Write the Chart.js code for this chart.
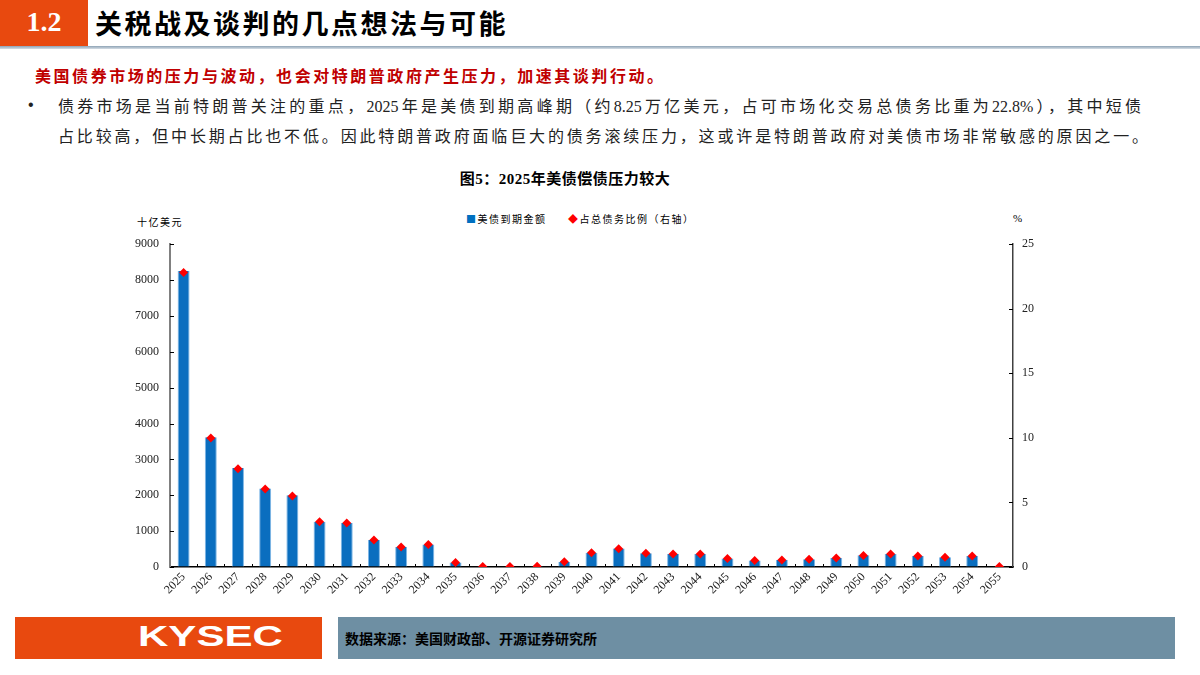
<!DOCTYPE html>
<html>
<head>
<meta charset="utf-8">
<script src="https://cdn.jsdelivr.net/npm/chart.js@4.4.1/dist/chart.umd.min.js"></script>
<style>
  body { margin: 0; width: 1200px; height: 675px; background: #fff; position: relative; overflow: hidden;
         font-family: "Liberation Serif", "Noto Sans CJK SC", serif; }
  .abs { position: absolute; white-space: nowrap; }
  .just { text-align: justify; text-align-last: justify; white-space: normal; }
</style>
</head>
<body>
<div class="abs" style="left:0;top:0;width:88px;height:46px;background:#E8490F;"></div>
<div class="abs" style="left:0;top:6px;width:88px;text-align:center;color:#fff;font:bold 28px 'Liberation Serif';">1.2</div>
<div class="abs" style="left:95px;top:3px;font:bold 27px 'Noto Sans CJK SC';letter-spacing:2.5px;color:#000;">关税战及谈判的几点想法与可能</div>
<div class="abs" style="left:0;top:46px;width:1200px;height:3px;background:linear-gradient(#8ea3b5,#d5dde5);"></div>

<div class="abs just" style="left:35px;top:63px;width:628px;font:bold 16px 'Liberation Serif','Noto Sans CJK SC';color:#C00000;">美国债券市场的压力与波动，也会对特朗普政府产生压力，加速其谈判行动。</div>
<div class="abs" style="left:28px;top:96px;font:16px 'Liberation Sans';color:#222;">•</div>
<div class="abs just" style="left:58px;top:93px;width:1083px;font:16px 'Liberation Serif','Noto Sans CJK SC';color:#222;">债券市场是当前特朗普关注的重点，2025年是美债到期高峰期（约8.25万亿美元，占可市场化交易总债务比重为22.8%），其中短债</div>
<div class="abs just" style="left:58px;top:123px;width:1090px;font:16px 'Liberation Serif','Noto Sans CJK SC';color:#222;">占比较高，但中长期占比也不低。因此特朗普政府面临巨大的债务滚续压力，这或许是特朗普政府对美债市场非常敏感的原因之一。</div>

<div class="abs" style="left:0;top:167px;width:1130px;text-align:center;font:bold 15px 'Liberation Serif','Noto Sans CJK SC';letter-spacing:0.5px;color:#000;">图5：2025年美债偿债压力较大</div>

<div class="abs" style="left:466px;top:211px;font:10px 'Noto Sans CJK SC';letter-spacing:1.5px;color:#000;"><span style="color:#0070C0;">■</span>美债到期金额</div>
<div class="abs" style="left:568px;top:211px;font:10px 'Noto Sans CJK SC';letter-spacing:1.5px;color:#000;"><span style="color:#FF0000;">◆</span>占总债务比例（右轴）</div>
<div class="abs" style="left:137px;top:214px;font:10px 'Noto Sans CJK SC';letter-spacing:1.5px;color:#000;">十亿美元</div>
<div class="abs" style="left:1013px;top:212px;font:11px 'Liberation Serif';color:#000;">%</div>

<canvas id="chart" width="960" height="396" style="position:absolute;left:90px;top:226px;"></canvas>

<div class="abs" style="left:15px;top:617px;width:307px;height:42px;background:#E8490F;"></div>
<div class="abs" style="left:138px;top:620px;font:bold 29px 'Liberation Sans';color:#fff;transform:scaleX(1.45);transform-origin:left top;">KYSEC</div>
<div class="abs" style="left:338px;top:617px;width:837px;height:42px;background:#6E8FA3;"></div>
<div class="abs" style="left:345px;top:628px;font:bold 14px 'Noto Sans CJK SC';color:#000;">数据来源：美国财政部、开源证券研究所</div>

<script>
const years = ['2025','2026','2027','2028','2029','2030','2031','2032','2033','2034','2035','2036','2037','2038','2039','2040',
  '2041','2042','2043','2044','2045','2046','2047','2048','2049','2050','2051','2052','2053','2054','2055'];
// 美债到期金额（十亿美元）
const maturing = [8250, 3620, 2760, 2190, 2000, 1260, 1225, 755, 560, 625, 125, 10, 12, 20, 140, 400,
  515, 385, 365, 365, 235, 180, 195, 215, 250, 330, 365, 305, 270, 305, 10];
// 占总债务比例（%，右轴）
const shareOfDebt = [22.8, 10.0, 7.6, 6.05, 5.5, 3.5, 3.4, 2.1, 1.55, 1.75, 0.35, 0.03, 0.04, 0.06, 0.4, 1.1,
  1.42, 1.06, 1.0, 1.0, 0.65, 0.5, 0.55, 0.6, 0.7, 0.9, 1.0, 0.85, 0.75, 0.85, 0.03];
const leftTicks = [0, 9000, 1000];
const rightTicks = [0, 25, 5];

// 轴内侧小刻度
const innerTicks = {
  id: 'innerTicks',
  afterDatasetsDraw(chart) {
    const { ctx, scales: { x, y, y1 }, chartArea } = chart;
    ctx.save();
    ctx.lineWidth = 1;
    ctx.strokeStyle = '#000';
    ctx.beginPath();
    y.ticks.forEach((t) => {
      const py = Math.round(y.getPixelForValue(t.value)) + 0.5;
      ctx.moveTo(chartArea.left, py);
      ctx.lineTo(chartArea.left + 4, py);
    });
    y1.ticks.forEach((t) => {
      const py = Math.round(y1.getPixelForValue(t.value)) + 0.5;
      ctx.moveTo(chartArea.right - 4, py);
      ctx.lineTo(chartArea.right, py);
    });
    for (let i = 0; i < years.length - 1; i++) {
      const px = Math.round((x.getPixelForValue(i) + x.getPixelForValue(i + 1)) / 2) + 0.5;
      ctx.moveTo(px, chartArea.bottom);
      ctx.lineTo(px, chartArea.bottom - 3);
    }
    ctx.stroke();
    ctx.restore();
  }
};

const ctx = document.getElementById('chart').getContext('2d');
new Chart(ctx, {
  data: {
    labels: years,
    datasets: [
      {
        type: 'line',
        label: '占总债务比例（右轴）',
        data: shareOfDebt,
        yAxisID: 'y1',
        showLine: false,
        pointStyle: 'rectRot',
        pointRadius: 4.5,
        pointBackgroundColor: '#FF0000',
        pointBorderColor: '#FF0000',
        pointBorderWidth: 0,
        order: 0,
      },
      {
        type: 'bar',
        label: '美债到期金额',
        data: maturing,
        yAxisID: 'y',
        backgroundColor: '#0A6EBF',
        borderColor: '#7DB6E6',
        borderWidth: { left: 1, right: 1, top: 0, bottom: 0 },
        categoryPercentage: 1,
        barPercentage: 0.44,
        order: 1,
      },
    ],
  },
  options: {
    responsive: false,
    animation: false,
    devicePixelRatio: 1,
    layout: { padding: { top: 6, bottom: 0, left: 0, right: 0 } },
    plugins: { legend: { display: false }, tooltip: { enabled: false } },
    scales: {
      x: {
        offset: true,
        grid: { display: true, drawOnChartArea: false, drawTicks: false },
        border: { display: true, color: '#000', width: 1.5 },
        ticks: { minRotation: 45, maxRotation: 45, autoSkip: false, padding: 3, color: '#222',
                 font: { family: 'Liberation Serif', size: 12 } },
        afterFit: (s) => { s.height = 55; },
      },
      y: {
        position: 'left',
        min: leftTicks[0], max: leftTicks[1],
        grid: { display: true, drawOnChartArea: false, drawTicks: false },
        border: { display: true, color: '#808080', width: 2 },
        ticks: { stepSize: leftTicks[2], padding: 11, color: '#222',
                 font: { family: 'Liberation Serif', size: 12 },
                 callback: (v) => String(v) },
        afterFit: (s) => { s.width = 80; },
      },
      y1: {
        position: 'right',
        min: rightTicks[0], max: rightTicks[1],
        grid: { display: true, drawOnChartArea: false, drawTicks: false },
        border: { display: true, color: '#404040', width: 1.5 },
        ticks: { stepSize: rightTicks[2], padding: 9, color: '#222',
                 font: { family: 'Liberation Serif', size: 12 },
                 callback: (v) => String(v) },
        afterFit: (s) => { s.width = 37; },
      },
    },
  },
  plugins: [innerTicks],
});
</script>
</body>
</html>
